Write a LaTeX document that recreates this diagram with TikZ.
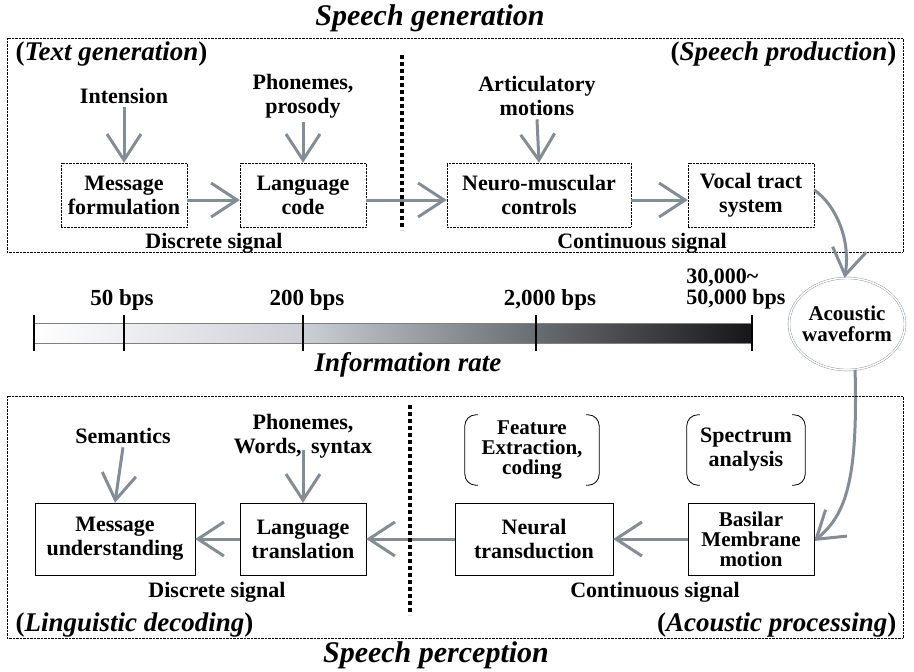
\documentclass[tikz,border=0pt]{standalone}
\usepackage{fontspec}
\setmainfont{Liberation Serif}
\usetikzlibrary{arrows.meta, positioning, shapes.geometric, calc}

\definecolor{arrowgray}{RGB}{130,141,149}
\definecolor{barlight}{RGB}{203,207,214}
\definecolor{barmid}{RGB}{104,109,113}
\definecolor{bardark}{RGB}{22,22,24}

\newcommand{\txtbody}{\bfseries\fontsize{22}{24}\selectfont}
\newcommand{\txttight}{\bfseries\fontsize{21}{20}\selectfont}
\newcommand{\txtside}{\bfseries\fontsize{27}{30}\selectfont}
\newcommand{\txttitle}{\bfseries\itshape\fontsize{30}{32}\selectfont}

\tikzset{
    genbox/.style={draw, densely dotted, thin, align=center, minimum height=64pt, font=\txtbody},
    percbox/.style={draw, thin, align=center, minimum height=72pt, font=\txtbody},
    lbl/.style={align=center, font=\txtbody},
    flow/.style={draw=arrowgray, line width=3pt, -{Straight Barb[length=26pt, width=34pt]}},
    split/.style={line width=4pt, dash pattern=on 4pt off 3pt},
    ticks/.style={line width=1.5pt},
    bracket/.style={line width=0.8pt, rounded corners=11pt}
}

\begin{document}
\begin{tikzpicture}[x=1pt, y=-1pt]

        \useasboundingbox (0,0) rectangle (914,672);

        % ==========================================
        % TOP: Speech generation
        % ==========================================

        \node[font=\txttitle] (gentitle) at (430,18) {Speech generation};
        \draw[densely dotted, thin] (7,38) rectangle (903,252);

        \node[font=\txtside, anchor=west] (textgen) at (12,54) {(\textit{Text generation})};
        \node[font=\txtside, anchor=east] (speechprod) at (900,54) {(\textit{Speech production})};

        % boxes of the generation chain
        \node[genbox, minimum width=126pt] (msgform) at (124,195) {Message\\formulation};
        \node[genbox, minimum width=126pt] (langcode) at (303,195) {Language\\code};
        \node[genbox, minimum width=184pt] (neuro) at (539,195) {Neuro-muscular\\controls};
        \node[genbox, minimum width=126pt] (vocal) at (751,195) {Vocal tract\\system};

        % inputs from above
        \node[lbl] (intension) at (124,96) {Intension};
        \node[lbl] (phonpros) at (303,96) {Phonemes,\\prosody};
        \node[lbl] (artic) at (537,96) {Articulatory\\motions};

        \draw[flow] (intension.south) -- (msgform.north);
        \draw[flow] (phonpros.south) -- (langcode.north);
        \draw[flow] (artic.south) -- (neuro.north);

        \draw[flow] ([yshift=-5pt]msgform.east) -- ([yshift=-5pt]langcode.west);
        \draw[flow] ([yshift=-5pt]langcode.east) -- ([yshift=-5pt]neuro.west);
        \draw[flow] ([yshift=-5pt]neuro.east) -- ([yshift=-5pt]vocal.west);

        % discrete / continuous split
        \draw[split] (402,55) -- (402,230);
        \node[lbl] (gendisc) at (214,243) {Discrete signal};
        \node[lbl] (gencont) at (642,243) {Continuous signal};

        % ==========================================
        % MIDDLE: information rate bar and waveform
        % ==========================================

        \shade[left color=white, right color=barlight] (34,323) rectangle (303,343);
        \shade[left color=barlight, right color=barmid] (303,323) rectangle (536,343);
        \shade[left color=barmid, right color=bardark] (536,323) rectangle (752,343);
        \draw[gray, thin] (34,323) -- (752,323) (34,343) -- (752,343);

        \foreach \tx in {34,124,303,536,752}
            \draw[ticks] (\tx,315) -- (\tx,351);

        \node[font=\bfseries\fontsize{23}{16}\selectfont] (r50) at (122,300) {50 bps};
        \node[font=\bfseries\fontsize{23}{16}\selectfont] (r200) at (307,300) {200 bps};
        \node[font=\bfseries\fontsize{23}{16}\selectfont] (r2000) at (550,300) {2,000 bps};
        \node[font=\bfseries\fontsize{22}{21}\selectfont, align=left] (r30000) at (736,289) {30,000\textasciitilde\\50,000 bps};

        \node[font=\bfseries\itshape\fontsize{27}{30}\selectfont] (inforate) at (408,365) {Information rate};

        \node[ellipse, draw=arrowgray, double, double distance=1.5pt, thin, minimum width=116pt,
              minimum height=92pt, inner sep=0pt] (wave) at (847,324) {};
        \node[align=center, font=\txttight] (wavetxt) at (wave.center) {Acoustic\\[1pt]waveform};

        \draw[flow] ([yshift=5pt]vocal.east) .. controls (836,205) and (851,240) .. (wave.93);
        \draw[flow] (wave.280) .. controls (858,480) and (846,515) .. ([yshift=-2pt]814,539);

        % ==========================================
        % BOTTOM: Speech perception
        % ==========================================

        \draw[densely dotted, thin] (7,396) rectangle (903,638);
        \node[font=\txttitle] (perctitle) at (436,655) {Speech perception};

        \node[font=\txtside, anchor=west] (lingdec) at (12,625) {(\textit{Linguistic decoding})};
        \node[font=\txtside, anchor=east] (acproc) at (900,625) {(\textit{Acoustic processing})};

        % boxes of the perception chain
        \node[percbox, minimum width=160pt] (msgund) at (115,539) {Message\\understanding};
        \node[percbox, minimum width=126pt] (langtr) at (303,539) {Language\\translation};
        \node[percbox, minimum width=158pt] (neural) at (534,539) {Neural\\transduction};
        \node[percbox, minimum width=126pt, font=\txttight] (basilar) at (751,539) {Basilar\\Membrane\\motion};

        \node[lbl] (semant) at (123,436) {Semantics};
        \node[lbl] (phonwords) at (303,436) {Phonemes,\\Words,\hspace{4pt} syntax};

        \draw[flow] (semant.south) -- (msgund.north);
        \draw[flow] ([yshift=12pt]phonwords.south) -- (langtr.north);

        \draw[flow] (basilar.west) -- (neural.east);
        \draw[flow] (neural.west) -- (langtr.east);
        \draw[flow] (langtr.west) -- (msgund.east);

        % bracketed stages
        \node[font=\txttight, align=center, minimum width=134pt, minimum height=70pt] (feature) at (532,450)
            {Feature\\Extraction,\\coding};
        \node[font=\txtbody, align=center, minimum width=118pt, minimum height=70pt] (spectrum) at (746,450)
            {Spectrum\\analysis};
        \foreach \br in {feature, spectrum} {
            \draw[bracket] ([xshift=13pt]\br.north west) -- (\br.north west) -- (\br.south west) -- ([xshift=13pt]\br.south west);
            \draw[bracket] ([xshift=-13pt]\br.north east) -- (\br.north east) -- (\br.south east) -- ([xshift=-13pt]\br.south east);
        }

        \draw[split] (410,405) -- (410,615);
        \node[lbl] (percdisc) at (217,592) {Discrete signal};
        \node[lbl] (perccont) at (655,592) {Continuous signal};

    \end{tikzpicture}
\end{document}
